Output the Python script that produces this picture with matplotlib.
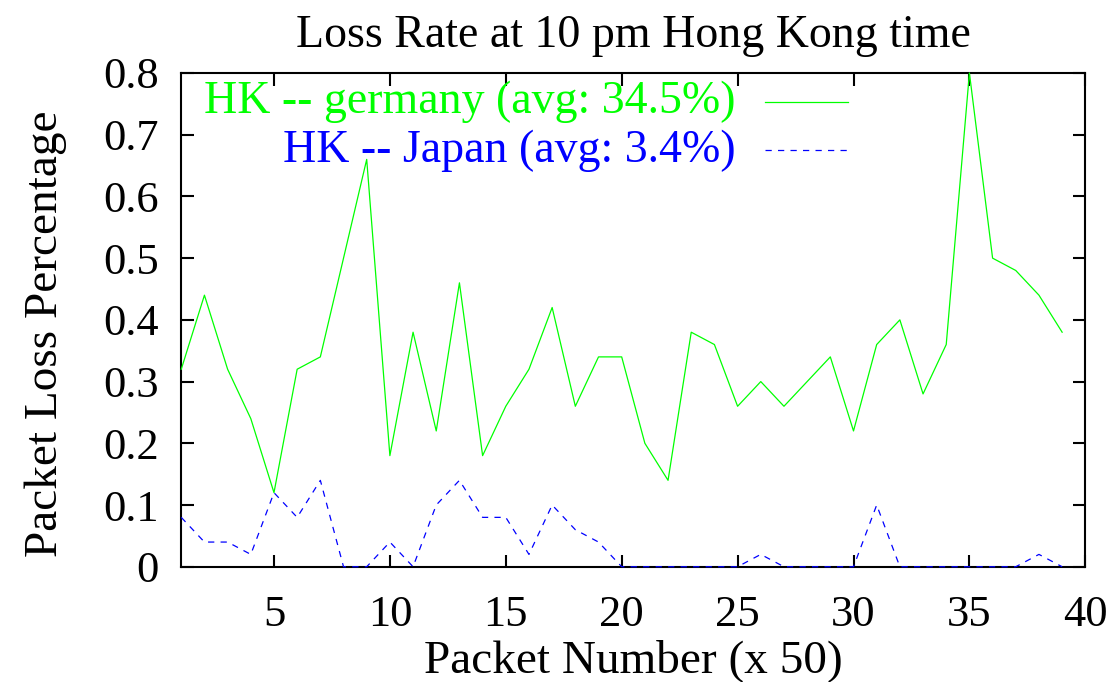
import numpy as np
import matplotlib
matplotlib.use('Agg')
import matplotlib.pyplot as plt
from matplotlib.ticker import FuncFormatter

# ── Data ────────────────────────────────────────────────────
packet_no = np.arange(1, 40)
germany = [0.32, 0.44, 0.32, 0.24, 0.12, 0.32, 0.34, 0.50, 0.66, 0.18,
           0.38, 0.22, 0.46, 0.18, 0.26, 0.32, 0.42, 0.26, 0.34, 0.34,
           0.20, 0.14, 0.38, 0.36, 0.26, 0.30, 0.26, 0.30, 0.34, 0.22,
           0.36, 0.40, 0.28, 0.36, 0.80, 0.50, 0.48, 0.44, 0.38]
japan = [0.08, 0.04, 0.04, 0.02, 0.12, 0.08, 0.14, 0.00, 0.00, 0.04,
         0.00, 0.10, 0.14, 0.08, 0.08, 0.02, 0.10, 0.06, 0.04, 0.00,
         0.00, 0.00, 0.00, 0.00, 0.00, 0.02, 0.00, 0.00, 0.00, 0.00,
         0.10, 0.00, 0.00, 0.00, 0.00, 0.00, 0.00, 0.02, 0.00]
labels = ['HK -- germany (avg: 34.5%)', 'HK -- Japan (avg: 3.4%)']
xticks = [5, 10, 15, 20, 25, 30, 35, 40]
yticks = [0, 0.1, 0.2, 0.3, 0.4, 0.5, 0.6, 0.7, 0.8]

GREEN = '#00ff00'
BLUE = '#0000ff'
FS_TICK = 32
FS_TEXT = 33
FS_LABEL = 34

plt.rcParams['font.family'] = ['Liberation Serif', 'DejaVu Serif']

fig = plt.figure(figsize=(11.12, 6.82), dpi=100, facecolor='white')
ax = fig.add_axes([0.163, 0.169, 0.813, 0.724])

ax.plot(packet_no, germany, color=GREEN, linewidth=0.9, zorder=3, clip_on=False)
ax.plot(packet_no, japan, color=BLUE, linewidth=0.9, linestyle='--',
        dashes=(5, 5), zorder=3, clip_on=False)

ax.set_xlim(1, 40)
ax.set_ylim(0, 0.8)
ax.set_xticks(xticks)
ax.set_yticks(yticks)
ax.yaxis.set_major_formatter(FuncFormatter(lambda v, _: f'{v:g}'))
ax.tick_params(direction='in', length=9, width=1.5, top=True, right=True,
               labelsize=FS_TICK)
ax.tick_params(axis='x', pad=20)
ax.tick_params(axis='y', pad=16)
for spine in ax.spines.values():
    spine.set_linewidth(1.5)

ax.set_title('Loss Rate at 10 pm Hong Kong time', fontsize=FS_TEXT, pad=19)
ax.set_xlabel('Packet Number (x 50)', fontsize=FS_LABEL, labelpad=3)
ax.set_ylabel('Packet Loss Percentage', fontsize=FS_LABEL, labelpad=26)
ax.yaxis.label.set_y(0.472)

# gnuplot-style key: right-aligned text followed by a line sample
for i, (lab, col, ls) in enumerate(zip(labels, [GREEN, BLUE], ['-', '--'])):
    yk = 0.941 - i * 0.098
    ax.text(0.613, yk, lab, transform=ax.transAxes, ha='right', va='center',
            color=col, fontsize=FS_TEXT)
    kw = dict(dashes=(5, 5)) if ls == '--' else {}
    ax.plot([0.646, 0.738], [yk, yk], transform=ax.transAxes, color=col,
            linewidth=0.9, linestyle=ls, **kw)

fig.savefig('out.png', dpi=100, facecolor='white')
